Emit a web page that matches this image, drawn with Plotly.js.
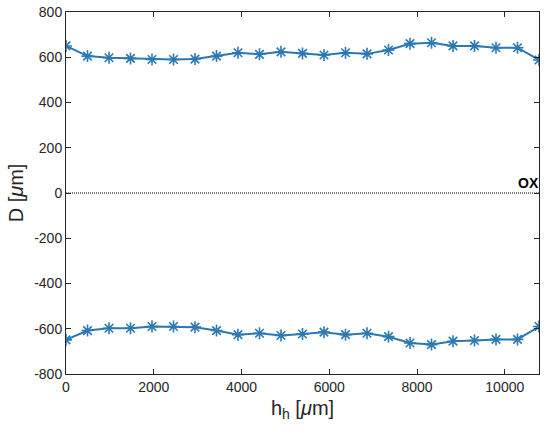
<!DOCTYPE html>
<html><head><meta charset="utf-8">
<script src="https://cdn.plot.ly/plotly-3.0.1.min.js"></script>
<style>html,body{margin:0;padding:0;background:#fff}</style>
</head><body><div id="chart" style="width:550px;height:437px"></div>
<script>
const hh = [0,490,980,1470,1960,2450,2940,3430,3920,4410,4900,5390,5880,6370,6860,7350,7840,8330,8820,9310,9800,10290,10780];
const upperD = [650,605,598,595,590,590,592,605,620,613,624,617,610,620,615,632,660,664,650,650,642,642,588];
const lowerD = [-649,-608,-598,-598,-590,-590,-593,-608,-626,-620,-630,-623,-615,-626,-620,-635,-663,-670,-655,-652,-647,-647,-590];
const oxX = [0,10780];
const oxY = [0,0];
const xTicks = [0,2000,4000,6000,8000,10000];
const yTicks = [-800,-600,-400,-200,0,200,400,600,800];

const blue = '#2b78b2';
const mk = {symbol:'asterisk-open', size:10, color:blue, line:{color:blue, width:1.6}};
const traces = [
  {x:hh, y:upperD, mode:'lines+markers', line:{color:blue, width:2}, marker:mk, showlegend:false},
  {x:hh, y:lowerD, mode:'lines+markers', line:{color:blue, width:2}, marker:mk, showlegend:false},
  {x:oxX, y:oxY, mode:'lines', line:{color:'#000', width:1, dash:'1px,1px'}, showlegend:false}
];
const fam = 'Liberation Sans, Arial, Helvetica';
const axisCommon = {
  showgrid:false, zeroline:false, showline:true, mirror:'ticks', linecolor:'#262626', linewidth:1,
  ticks:'inside', ticklen:5, tickcolor:'#262626', tickfont:{family:fam, size:14, color:'#262626'}
};
const layout = {
  width:550, height:437,
  margin:{l:66, r:11, t:12, b:63},
  paper_bgcolor:'#fff', plot_bgcolor:'#fff',
  xaxis: Object.assign({}, axisCommon, {range:[0,10780], tickvals:xTicks, ticktext:xTicks.map(String),
    title:{text:'h<sub>h</sub> [<i>μ</i>m]', font:{family:fam, size:20, color:'#262626'}, standoff:7}}),
  yaxis: Object.assign({}, axisCommon, {range:[-800,800], tickvals:yTicks, ticktext:yTicks.map(String),
    title:{text:'D [<i>μ</i>m]', font:{family:fam, size:20, color:'#262626'}, standoff:5}}),
  annotations:[{x:10780, y:0, xref:'x', yref:'y', text:'<b>OX</b>', showarrow:false, xanchor:'right', yanchor:'bottom',
    font:{family:fam, size:14, color:'#000'}, yshift:0, xshift:2}]
};
Plotly.newPlot('chart', traces, layout, {displayModeBar:false, staticPlot:true});
</script></body></html>
